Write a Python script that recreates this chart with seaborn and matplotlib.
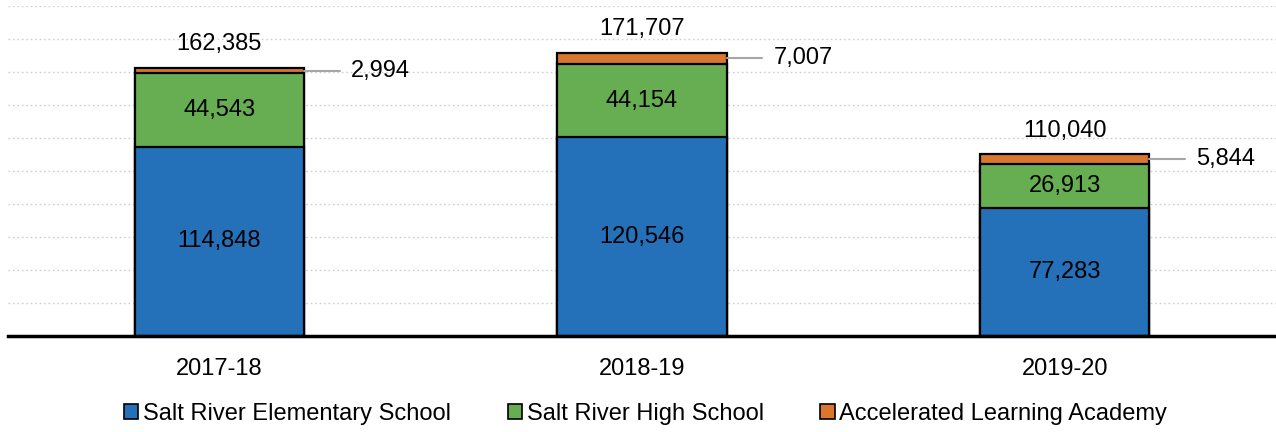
import matplotlib
matplotlib.use("Agg")
import matplotlib.pyplot as plt
import seaborn as sns
import numpy as np
import pandas as pd
from matplotlib.patches import Patch

years = ["2017-18", "2018-19", "2019-20"]
elementary = [114848, 120546, 77283]
high_school = [44543, 44154, 26913]
academy = [2994, 7007, 5844]
series_names = ["Salt River Elementary School", "Salt River High School", "Accelerated Learning Academy"]
colors = ["#2470B9", "#67AD51", "#D9772E"]

sns.set_theme(style="white")
plt.rcParams['font.family'] = ['Liberation Sans', 'DejaVu Sans']
plt.rcParams['text.color'] = 'black'
plt.rcParams['xtick.color'] = 'black'
plt.rcParams['xtick.labelcolor'] = 'black'

fig = plt.figure(figsize=(12.76, 4.32), dpi=100)
ax = fig.add_axes([8/1276, 96/432, 1 - 8/1276, 330/432])

df = pd.DataFrame({"year": years, "elem": elementary, "high": high_school, "acad": academy})
df["c1"] = df["elem"]
df["c2"] = df["elem"] + df["high"]
df["c3"] = df["c2"] + df["acad"]

for col, color in zip(["c3", "c2", "c1"], colors[::-1]):
    sns.barplot(data=df, x="year", y=col, color=color, width=0.4, saturation=1,
                edgecolor="black", linewidth=1.6, ax=ax, zorder=3)

ax.set_ylim(0, 200000)
ax.set_xlim(-0.5, 2.5)
ax.set_yticks(np.arange(20000, 200001, 20000))
ax.yaxis.grid(True, linestyle=(0, (1.2, 2)), color="#CFCFCF", linewidth=1)
ax.xaxis.grid(False)
ax.tick_params(axis="y", left=False, labelleft=False)
ax.tick_params(axis="x", bottom=False, length=0, pad=16, labelsize=17, labelcolor="black")
for s in ["top", "left", "right"]:
    ax.spines[s].set_visible(False)
ax.spines["bottom"].set_color("black")
ax.spines["bottom"].set_linewidth(2.5)
ax.spines["bottom"].set_zorder(5)
ax.set_xlabel("")
ax.set_ylabel("")

fs = 17
for i in range(len(years)):
    e, h, a = elementary[i], high_school[i], academy[i]
    tot = e + h + a
    ax.text(i, e / 2, f"{e:,}", ha="center", va="center", fontsize=fs, color="black", zorder=6)
    ax.text(i, e + h / 2, f"{h:,}", ha="center", va="center", fontsize=fs, color="black", zorder=6)
    ax.text(i, tot + 14500, f"{tot:,}", ha="center", va="center", fontsize=fs, color="black", zorder=6)
    ym = e + h + a / 2
    ax.plot([i + 0.2, i + 0.285], [ym, ym], color="#A6A6A6", linewidth=1.5, zorder=4)
    ax.text(i + 0.312, ym, f"{a:,}", ha="left", va="center", fontsize=fs, color="black", zorder=6)

handles = [Patch(facecolor=c, edgecolor="black", linewidth=1.2) for c in colors]
fig.legend(handles, series_names, loc="center", bbox_to_anchor=(0.506, 1 - 414/432), ncol=3,
           frameon=False, fontsize=17, handlelength=0.6, handleheight=0.6,
           handletextpad=0.2, columnspacing=2.4, labelcolor="black")

fig.savefig("out.png", dpi=100)
